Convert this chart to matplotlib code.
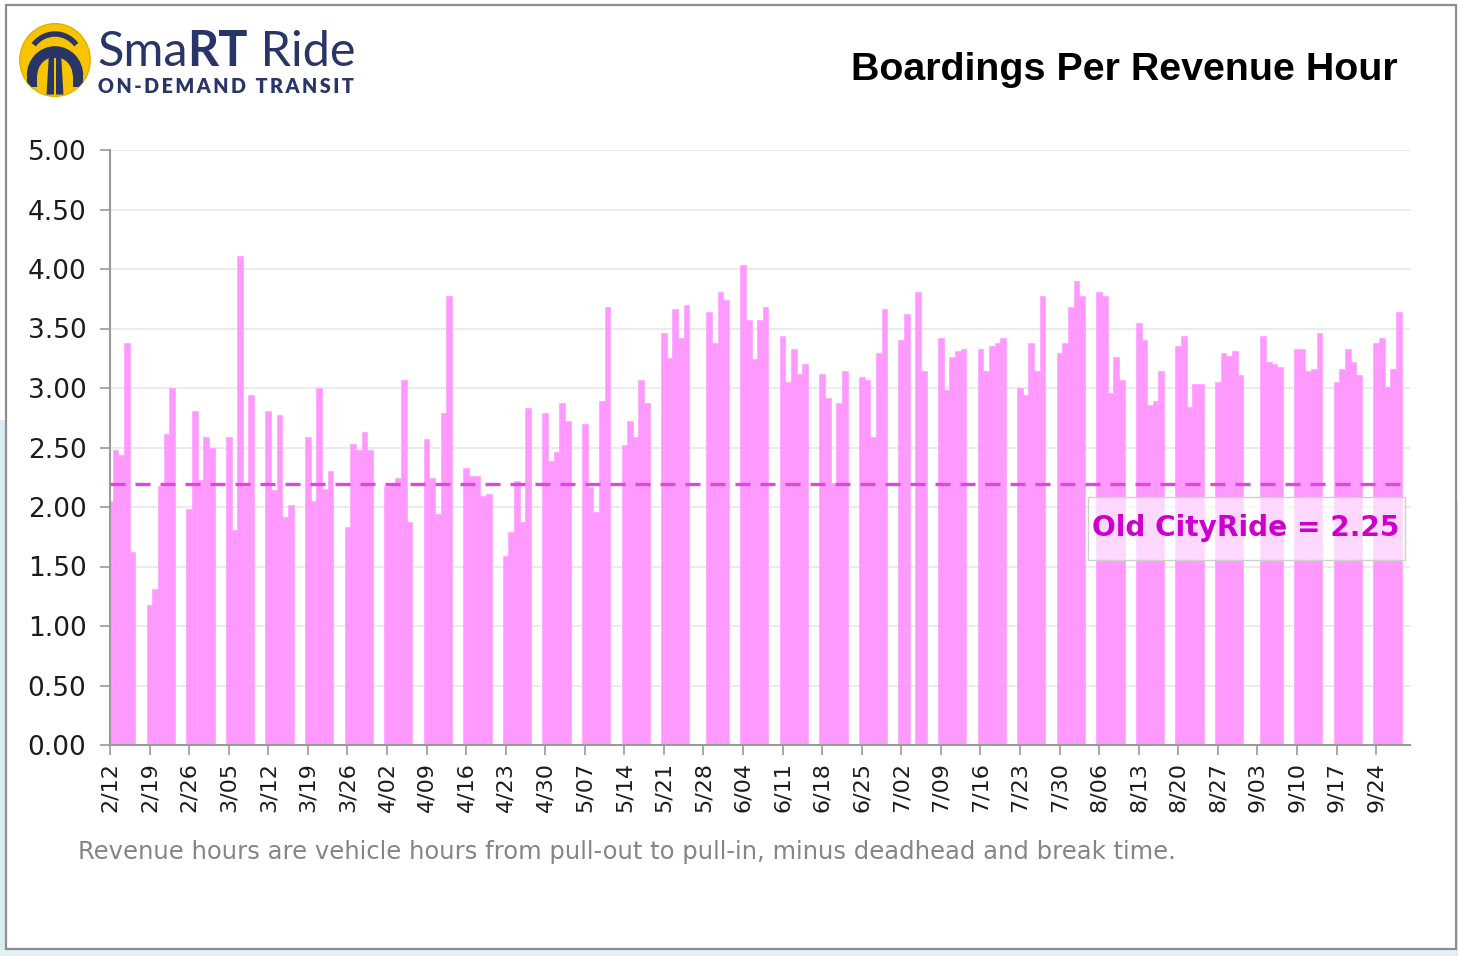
import matplotlib
matplotlib.use("Agg")
import matplotlib.pyplot as plt
import matplotlib.dates as mdates
from matplotlib.patches import Rectangle, Circle, Wedge, Polygon
import pandas as pd

W, H = 1458, 956

# ---------------- data ----------------
first_day = "2018-02-12"
last_day = "2018-09-28"
axis_end = "2018-09-30"
holidays = ["2018-05-28", "2018-07-04", "2018-09-03"]

tick_labels = ["2/12", "2/19", "2/26", "3/05", "3/12", "3/19", "3/26", "4/02",
               "4/09", "4/16", "4/23", "4/30", "5/07", "5/14", "5/21", "5/28",
               "6/04", "6/11", "6/18", "6/25", "7/02", "7/09", "7/16", "7/23",
               "7/30", "8/06", "8/13", "8/20", "8/27", "9/03", "9/10", "9/17",
               "9/24"]

values_feb_mar = [2.05, 2.48, 2.44, 3.38, 1.62,
                  1.18, 1.31, 2.18, 2.61, 3.00,
                  1.98, 2.81, 2.23, 2.59, 2.50,
                  2.59, 1.81, 4.11, 2.18, 2.94,
                  2.81, 2.14, 2.77, 1.92, 2.02,
                  2.59, 2.05, 3.00, 2.15, 2.30,
                  1.83, 2.53, 2.48, 2.63, 2.48]
values_apr_may = [2.18, 2.19, 2.24, 3.07, 1.87,
                  2.57, 2.24, 1.94, 2.79, 3.77,
                  2.33, 2.26, 2.26, 2.09, 2.11,
                  1.59, 1.79, 2.22, 1.87, 2.83,
                  2.79, 2.39, 2.46, 2.87, 2.72,
                  2.70, 2.17, 1.96, 2.89, 3.68,
                  2.52, 2.72, 2.59, 3.07, 2.87,
                  3.46, 3.25, 3.66, 3.42, 3.70]
values_jun_jul = [3.64, 3.38, 3.81, 3.74,
                  4.03, 3.57, 3.24, 3.57, 3.68,
                  3.44, 3.05, 3.33, 3.12, 3.20,
                  3.12, 2.92, 2.20, 2.87, 3.14,
                  3.09, 3.07, 2.59, 3.29, 3.66,
                  3.40, 3.62, 3.81, 3.14,
                  3.42, 2.98, 3.26, 3.31, 3.33,
                  3.33, 3.14, 3.35, 3.38, 3.42,
                  3.00, 2.94, 3.38, 3.14, 3.77]
values_aug_sep = [3.29, 3.38, 3.68, 3.90, 3.77,
                  3.81, 3.77, 2.96, 3.26, 3.07,
                  3.55, 3.40, 2.86, 2.89, 3.14,
                  3.35, 3.44, 2.84, 3.03, 3.03,
                  3.05, 3.29, 3.27, 3.31, 3.11,
                  3.44, 3.22, 3.20, 3.18,
                  3.33, 3.33, 3.14, 3.16, 3.46,
                  3.05, 3.16, 3.33, 3.22, 3.11,
                  3.38, 3.42, 3.01, 3.16, 3.64]

old_cityride_level = 2.19
old_cityride_label = "Old CityRide = 2.25"
title = "Boardings Per Revenue Hour"
footnote = "Revenue hours are vehicle hours from pull-out to pull-in, minus deadhead and break time."

values = values_feb_mar + values_apr_may + values_jun_jul + values_aug_sep
service_days = [d for d in pd.bdate_range(first_day, last_day)
                if d.strftime("%Y-%m-%d") not in holidays]
assert len(service_days) == len(values), (len(service_days), len(values))
week_starts = pd.date_range(first_day, periods=len(tick_labels), freq="7D")

# ---------------- figure ----------------
fig = plt.figure(figsize=(W / 100, H / 100), dpi=100)
fig.patch.set_facecolor("white")


def frect(x0, y0, x1, y1, **kw):
    return Rectangle((x0 / W, 1 - y1 / H), (x1 - x0) / W, (y1 - y0) / H,
                     transform=fig.transFigure, **kw)


# pale background outside the frame
fig.patches.append(frect(0, 420, 5, 956, facecolor="#d9edf3", edgecolor="none", zorder=0))
fig.patches.append(frect(0, 950, 1458, 956, facecolor="#e4f2f6", edgecolor="none", zorder=0))
fig.patches.append(frect(1456, 500, 1458, 956, facecolor="#d9edf3", edgecolor="none", zorder=0))
# frame
fig.patches.append(frect(6, 5, 1456, 949, fill=False, edgecolor="#8e8e8e", linewidth=1.6, zorder=0))

# main axes
ax = fig.add_axes([110 / W, 1 - 745 / H, (1410 - 110) / W, (745 - 150) / H])
x = mdates.date2num(service_days)
ax.bar(x, values, width=1.0, color="#ff99ff", linewidth=0.4, edgecolor="#ff99ff", zorder=2)
ax.set_xlim(mdates.date2num(pd.Timestamp(first_day)), mdates.date2num(pd.Timestamp(axis_end)))
ax.set_ylim(0, 5)
ax.set_yticks([i * 0.5 for i in range(11)])
ax.set_yticklabels([f"{i * 0.5:.2f}" for i in range(11)])
ax.set_xticks(mdates.date2num(week_starts))
ax.set_xticklabels(tick_labels, rotation=90)

ax.yaxis.grid(True, color="#ebebeb", linewidth=1.5)
ax.set_axisbelow(True)
for s in ("top", "right"):
    ax.spines[s].set_visible(False)
for s in ("left", "bottom"):
    ax.spines[s].set_color("#9a9a9a")
    ax.spines[s].set_linewidth(1.5)
ax.tick_params(axis="y", length=7, width=1.2, color="#9a9a9a", pad=10,
               labelsize=19, labelcolor="#1c1c1c")
ax.tick_params(axis="x", length=7, width=1.2, color="#9a9a9a", pad=5,
               labelsize=16, labelcolor="#1c1c1c")
for lab in ax.get_yticklabels() + ax.get_xticklabels():
    lab.set_family("DejaVu Sans")

ax.axhline(old_cityride_level, color="#d94ad9", linewidth=2.4, dashes=(4.5, 3), zorder=3)

# annotation box
fig.patches.append(frect(1088, 497, 1405, 560, facecolor="white", alpha=0.62,
                         edgecolor="none", zorder=5))
fig.patches.append(frect(1088, 497, 1405, 560, fill=False,
                         edgecolor="#cfcfcf", linewidth=1.0, zorder=5))
ann = fig.text(1246 / W, 1 - 528 / H, old_cityride_label, color="#cc00cc",
               fontsize=19, fontweight="bold", family="DejaVu Sans",
               ha="center", va="center", zorder=6)

# title
ttl = fig.text(1398 / W, 1 - 80 / H, title, ha="right", va="baseline",
               fontsize=28, fontweight="bold", family="Liberation Sans", color="black")

# footnote
fn = fig.text(78 / W, 1 - 859 / H, footnote, ha="left", va="baseline",
              fontsize=16, family="DejaVu Sans", color="#858585")

navy = "#293567"
renderer = fig.canvas.get_renderer()


def fit_width(t, target):
    bb = t.get_window_extent(renderer)
    t.set_fontsize(t.get_fontsize() * target / bb.width)


fit_width(ttl, 1398 - 851)
fit_width(fn, 1178 - 78)
fit_width(ann, 1400 - 1093)

# logo text: measure at a trial size, then rescale to span 97..355 px
parts = [("Sma", "normal"), ("RT", "bold"), (" Ride", "normal")]
trial = 31
total = 0
for txt, wt in parts:
    t = fig.text(0, 0, txt, fontsize=trial, fontweight=wt, family="Lato")
    total += t.get_window_extent(renderer).width
    t.remove()
size = trial * (355 - 97) / total
lx = 97
for txt, wt in parts:
    t = fig.text(lx / W, 1 - 66 / H, txt, ha="left", va="baseline", fontsize=size,
                 fontweight=wt, family="Lato", color=navy)
    lx += t.get_window_extent(renderer).width
ts = "\u2009"
sub_text = ts.join("ON-DEMAND") + ts + " " + ts + ts.join("TRANSIT")
sub = fig.text(98 / W, 1 - 93 / H, sub_text,
               ha="left", va="baseline", fontsize=16, fontweight="heavy",
               family=["Lato", "DejaVu Sans"], color=navy)
fit_width(sub, 355 - 98)

# logo emblem
lax = fig.add_axes([18 / W, 1 - 100 / H, 74 / W, 80 / H])
lax.set_xlim(-1.05, 1.05)
lax.set_ylim(-1.1, 1.1)
lax.axis("off")
yellow = "#f6c400"
disc = Circle((0, 0), 1.0, facecolor=yellow, edgecolor="#e2b100", linewidth=1)
lax.add_patch(disc)
shapes = [
    Wedge((0, -0.05), 0.84, 38, 142, width=0.15, facecolor=navy, edgecolor="none"),
    Wedge((0, -0.42), 0.80, 0, 180, width=0.30, facecolor=navy, edgecolor="none"),
    Polygon([(-0.17, 0.2), (0.17, 0.2), (0.24, -0.95), (-0.24, -0.95)],
            closed=True, facecolor=navy, edgecolor="none"),
    Polygon([(-0.03, 0.05), (0.03, 0.05), (0.03, -1.0), (-0.03, -1.0)],
            closed=True, facecolor=yellow, edgecolor="none"),
    Rectangle((-0.8, -0.75), 0.28, 0.35, facecolor=navy, edgecolor="none"),
    Rectangle((0.52, -0.75), 0.28, 0.35, facecolor=navy, edgecolor="none"),
]
for p in shapes:
    lax.add_patch(p)
    p.set_clip_path(disc)

fig.savefig("out.png", dpi=100, facecolor=fig.get_facecolor())
